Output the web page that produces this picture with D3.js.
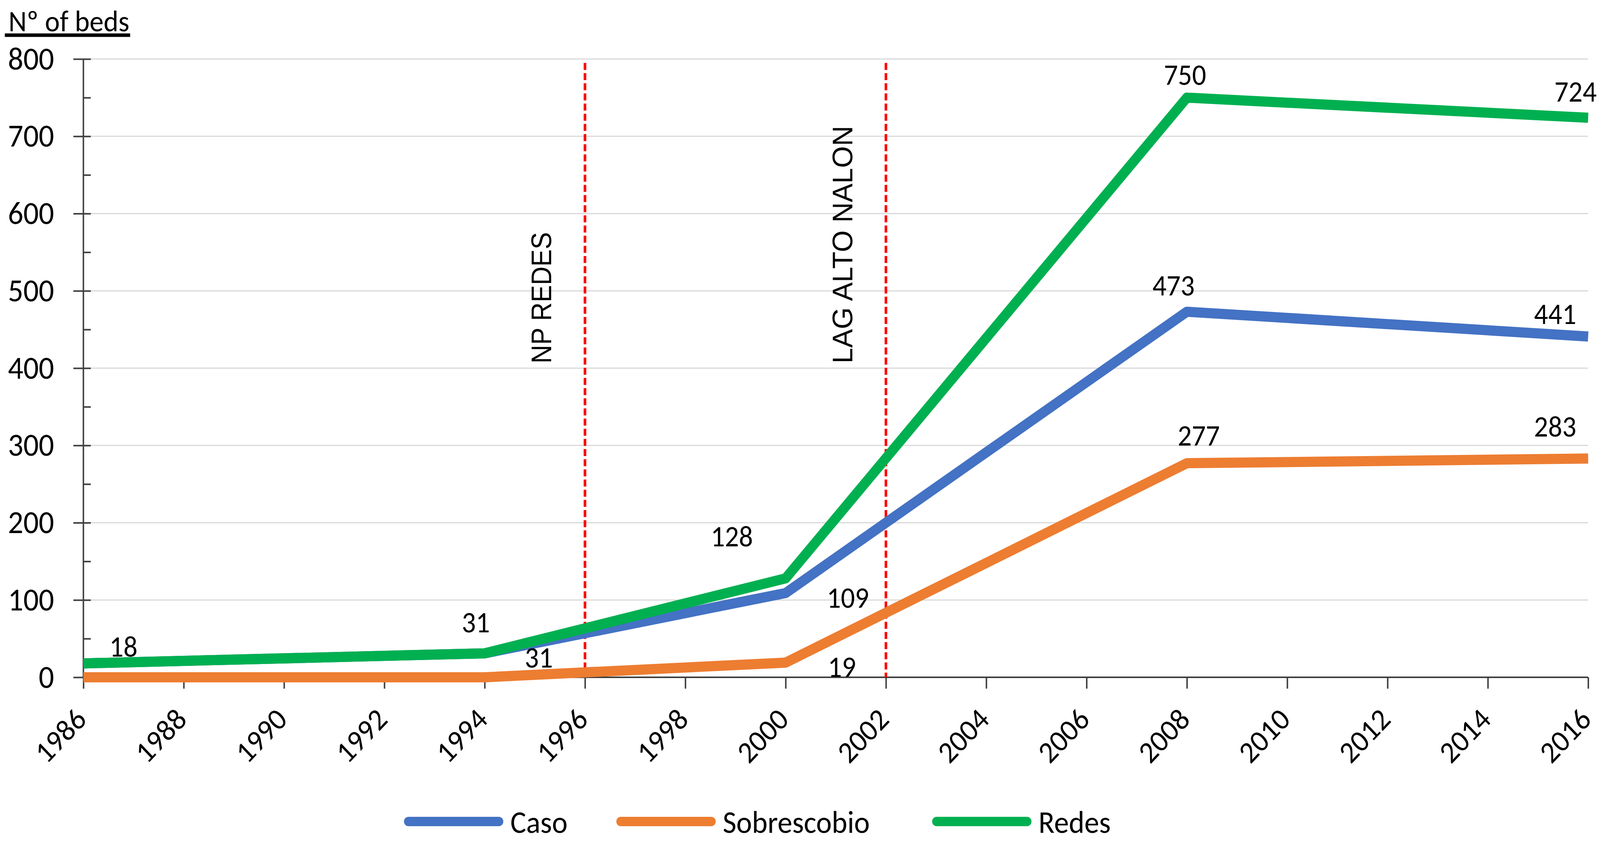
<!DOCTYPE html>
<html>
<head>
<meta charset="utf-8">
<script src="https://cdn.jsdelivr.net/npm/d3@7"></script>
<style>
  html, body { margin: 0; padding: 0; background: #ffffff; overflow: hidden; }
  svg { display: block; width: 100vw; height: 100vh; }
  .calib { font-family: Carlito, Lato, "Liberation Sans Narrow", sans-serif; }
</style>
</head>
<body>
<svg id="chart" viewBox="0 0 4317 2157" preserveAspectRatio="none"></svg>
<script>
// ---------- data ----------
const years = [1986, 1994, 2000, 2008, 2016];
const caso = [18, 31, 109, 473, 441];
const sobrescobio = [0, 0, 19, 277, 283];
const redes = [18, 31, 128, 750, 724];
const seriesNames = ["Caso", "Sobrescobio", "Redes"];
const seriesColors = ["#4472C4", "#ED7D31", "#00B050"];
const xTicks = [1986, 1988, 1990, 1992, 1994, 1996, 1998, 2000, 2002, 2004, 2006, 2008, 2010, 2012, 2014, 2016];
const yTicks = [0, 100, 200, 300, 400, 500, 600, 700, 800];
const yMinorTicks = [50, 150, 250, 350, 450, 550, 650, 750];
const eventYears = [1996, 2002];
const eventLabels = ["NP REDES", "LAG ALTO NALON"];
const yAxisTitle = "Nº of beds";

// data labels: [series index, point index, text]
const dataLabels = [
  [2, 0, "18"], [2, 1, "31"], [0, 1, "31"], [2, 2, "128"], [0, 2, "109"], [1, 2, "19"],
  [2, 3, "750"], [0, 3, "473"], [1, 3, "277"], [2, 4, "724"], [0, 4, "441"], [1, 4, "283"]
];
// label offsets (layout, px) relative to the point: [dx, dy of baseline]
const labelOffsets = [
  [108, -17], [-24, -54], [146, 36], [-145, -82], [168, 38], [152, 37],
  [-5, -33], [-36, -42], [32, -45], [-34, -41], [-89, -32], [-89, -56]
];

// ---------- layout ----------
const svg = d3.select("#chart");
const x = d3.scaleLinear().domain([1986, 2016]).range([225, 4285]);
const y = d3.scaleLinear().domain([0, 800]).range([1733, 151]);
const allSeries = [caso, sobrescobio, redes];

// gridlines
svg.append("g").selectAll("line").data(yTicks.filter(d => d > 0)).join("line")
  .attr("x1", x(1986)).attr("x2", x(2016))
  .attr("y1", d => y(d)).attr("y2", d => y(d))
  .attr("stroke", "#d9d9d9").attr("stroke-width", 3);

// y axis: major ticks crossing, minor inside
const yAxisG = svg.append("g").attr("transform", `translate(${x(1986)},0)`)
  .call(d3.axisLeft(y).tickValues(yTicks).tickSize(27).tickPadding(52).tickFormat(d3.format("d")));
yAxisG.select(".domain").remove();
yAxisG.selectAll(".tick line").attr("stroke", "#404040").attr("stroke-width", 4);
yAxisG.selectAll(".tick text").attr("class", "calib").attr("font-size", 82).attr("fill", "#000");

const yAxisIn = svg.append("g").attr("transform", `translate(${x(1986)},0)`)
  .call(d3.axisRight(y).tickValues(yTicks.concat(yMinorTicks)).tickSize(20).tickFormat(""));
yAxisIn.select(".domain").remove();
yAxisIn.selectAll(".tick line").attr("stroke", "#404040").attr("stroke-width", 4);

svg.append("line").attr("x1", x(1986)).attr("x2", x(1986)).attr("y1", y(800)).attr("y2", y(0))
  .attr("stroke", "#404040").attr("stroke-width", 4);

// x axis
const xAxisG = svg.append("g").attr("transform", `translate(0,${y(0)})`)
  .call(d3.axisBottom(x).tickValues(xTicks).tickSize(29).tickFormat(d3.format("d")));
xAxisG.select(".domain").remove();
xAxisG.selectAll(".tick line").attr("stroke", "#404040").attr("stroke-width", 4);
xAxisG.selectAll(".tick text")
  .attr("class", "calib").attr("font-size", 78).attr("fill", "#000")
  .attr("text-anchor", "end").attr("dy", null).attr("y", null)
  .attr("transform", "translate(12,112) rotate(-45)");
svg.append("line").attr("x1", x(1986)).attr("x2", x(2016)).attr("y1", y(0)).attr("y2", y(0))
  .attr("stroke", "#404040").attr("stroke-width", 4);

// event lines
svg.append("g").selectAll("line").data(eventYears).join("line")
  .attr("x1", d => x(d)).attr("x2", d => x(d))
  .attr("y1", y(795)).attr("y2", y(0))
  .attr("stroke", "#ff0000").attr("stroke-width", 7).attr("stroke-dasharray", "18,8");

const eventTextLen = [336, 608];
svg.append("g").selectAll("text").data(eventLabels).join("text")
  .attr("transform", (d, i) => `translate(${x(eventYears[i]) - 91},930) rotate(-90)`)
  .attr("font-family", "'Liberation Sans', Arial, sans-serif")
  .attr("font-size", 76).attr("fill", "#000")
  .attr("textLength", (d, i) => eventTextLen[i]).attr("lengthAdjust", "spacingAndGlyphs")
  .text(d => d);

// lines
const line = d3.line().x((d, i) => x(years[i])).y(d => y(d));
svg.append("g").selectAll("path").data(allSeries).join("path")
  .attr("d", d => line(d))
  .attr("fill", "none")
  .attr("stroke", (d, i) => seriesColors[i])
  .attr("stroke-width", 26)
  .attr("stroke-linejoin", "round")
  .attr("stroke-linecap", "butt");

// data labels
svg.append("g").selectAll("text").data(dataLabels).join("text")
  .attr("class", "calib")
  .attr("x", (d, i) => x(years[d[1]]) + labelOffsets[i][0])
  .attr("y", (d, i) => y(allSeries[d[0]][d[1]]) + labelOffsets[i][1])
  .attr("text-anchor", "middle")
  .attr("font-size", 75).attr("fill", "#000")
  .text(d => d[2]);

// y axis title
const title = svg.append("text").attr("class", "calib")
  .attr("x", 23).attr("y", 80).attr("font-size", 76).attr("fill", "#000")
  .text(yAxisTitle);
const tb = title.node().getBBox();
svg.append("line").attr("x1", 13).attr("x2", tb.x + tb.width + 2)
  .attr("y1", 90).attr("y2", 90).attr("stroke", "#000").attr("stroke-width", 9);

// legend
const legendSwatchX = [1090, 1663, 2515];
const legend = svg.append("g").selectAll("g").data(seriesNames).join("g")
  .attr("transform", (d, i) => `translate(${legendSwatchX[i]},2102)`);
legend.append("line").attr("x1", 12).attr("x2", 256).attr("y1", 0).attr("y2", 0)
  .attr("stroke", (d, i) => seriesColors[i]).attr("stroke-width", 24).attr("stroke-linecap", "round");
legend.append("text").attr("class", "calib").attr("x", 287).attr("y", 29)
  .attr("font-size", 80).attr("fill", "#000").text(d => d);
</script>
</body>
</html>
